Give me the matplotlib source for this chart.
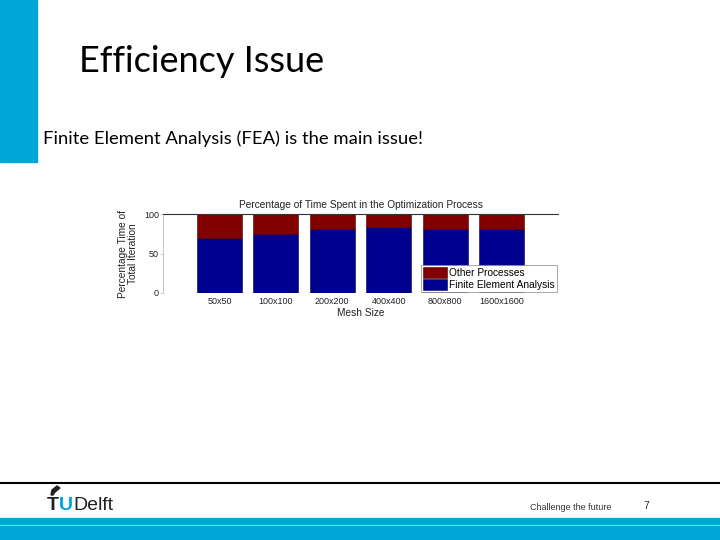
import numpy as np
import matplotlib
matplotlib.use("Agg")
import matplotlib.pyplot as plt
from matplotlib.patches import Rectangle, Polygon

# chart data
mesh_sizes = ["50x50", "100x100", "200x200", "400x400", "800x800", "1600x1600"]
fea_pct = [69, 75, 81, 84, 81, 81]
other_pct = [100 - v for v in fea_pct]
y_ticks = [0, 50, 100]

cyan = "#00A6D6"
fea_color = "#00008F"
other_color = "#800000"

W, H = 720, 540
fig = plt.figure(figsize=(7.2, 5.4), dpi=100)
fig.patch.set_facecolor("white")

# slide decorations (pixel coords converted to figure fractions)
def px(x, y):
    return x / W, 1 - y / H

fig.patches.append(Rectangle(px(0, 162), 37 / W, 162 / H, transform=fig.transFigure,
                             color=cyan, zorder=0))
fig.text(*px(79, 62), "Efficiency Issue", fontsize=26, family="Lato", va="center", ha="left")
fig.text(*px(43, 139), "Finite Element Analysis (FEA) is the main issue!", fontsize=13.3,
         family="Lato", va="center", ha="left")

# footer
fig.lines.append(plt.Line2D([0, 1], [1 - 483 / H] * 2, transform=fig.transFigure,
                            color="black", lw=1.5))
fig.patches.append(Rectangle(px(0, 540), 1, 22 / H, transform=fig.transFigure, color=cyan))
fig.lines.append(plt.Line2D([0, 1], [1 - 524.5 / H] * 2, transform=fig.transFigure,
                            color="#7fd2ea", lw=0.8))
fig.text(*px(47, 506), "T", fontsize=14, family="Liberation Sans", weight="bold",
         color="#222222", va="center", ha="left")
fig.text(*px(59, 506), "U", fontsize=14, family="Liberation Sans", weight="bold",
         color=cyan, va="center", ha="left")
fig.text(*px(73.5, 506), "Delft", fontsize=14, family="Liberation Sans",
         color="#222222", va="center", ha="left")
flame = [px(51, 495), px(52, 490), px(57, 486), px(60, 488), px(55, 492), px(53, 495)]
fig.patches.append(Polygon(flame, closed=True, transform=fig.transFigure, color="#222222"))
fig.text(*px(530, 508), "Challenge the future", fontsize=6.5, family="Liberation Sans",
         color="#333333", va="center", ha="left")
fig.text(*px(643, 506), "7", fontsize=7.5, family="Liberation Sans", color="#222222",
         va="center", ha="left")

# chart
ax = fig.add_axes([163 / W, 1 - 293 / H, 395 / W, 79 / H])
x = np.arange(1, len(mesh_sizes) + 1)
ax.bar(x, fea_pct, width=0.8, color=fea_color, edgecolor="#00005a", lw=0.4,
       label="Finite Element Analysis")
ax.bar(x, other_pct, bottom=fea_pct, width=0.8, color=other_color, edgecolor="#4a0000",
       lw=0.4, label="Other Processes")
ax.set_xlim(0, 7)
ax.set_ylim(0, 100)
ax.set_xticks(x, labels=mesh_sizes)
ax.set_yticks(y_ticks)
for s in ["right", "bottom"]:
    ax.spines[s].set_visible(False)
ax.spines["left"].set_color("#bbbbbb")
ax.spines["left"].set_linewidth(0.6)
ax.spines["top"].set_color("#333333")
ax.spines["top"].set_linewidth(0.8)
ax.tick_params(axis="x", length=0, labelsize=6.5, pad=3, colors="#222222")
ax.tick_params(axis="y", length=2, width=0.5, color="#bbbbbb", labelsize=6.5, pad=1,
               labelcolor="#222222")
for t in ax.get_xticklabels() + ax.get_yticklabels():
    t.set_family("Liberation Sans")
ax.set_title("Percentage of Time Spent in the Optimization Process", fontsize=7.3,
             family="Liberation Sans", pad=4, color="#222222")
ax.set_xlabel("Mesh Size", fontsize=7.3, family="Liberation Sans", labelpad=1, color="#222222")
ax.set_ylabel("Percentage Time of\nTotal Iteration", fontsize=7.3, family="Liberation Sans",
              labelpad=4, color="#222222", linespacing=1.0)
handles, labels = ax.get_legend_handles_labels()
leg = ax.legend(handles[::-1], labels[::-1], loc="lower right",
                prop={"family": "Liberation Sans", "size": 7.3}, frameon=True,
                fancybox=False, framealpha=1, facecolor="white", borderpad=0.2,
                handlelength=2.3, handleheight=1.2, handletextpad=0.25,
                labelspacing=0.15, borderaxespad=0.1)
leg.set_zorder(10)
leg.get_frame().set_edgecolor("#888888")
leg.get_frame().set_linewidth(0.5)

fig.savefig("out.png", dpi=100)
